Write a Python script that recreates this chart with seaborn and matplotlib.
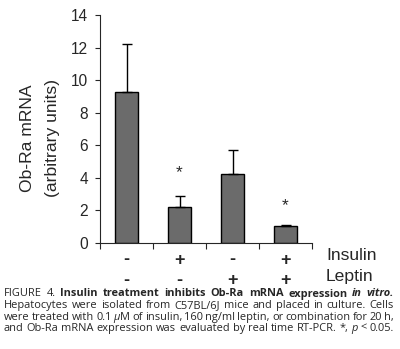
import matplotlib
matplotlib.use("Agg")
import matplotlib.pyplot as plt
import seaborn as sns
import pandas as pd
import numpy as np

# ---- data ----
groups = ["ctrl", "ins", "lep", "ins+lep"]
means = [9.25, 2.2, 4.23, 1.02]
errors = [2.95, 0.68, 1.47, 0.10]
star_heights = [None, 4.5, None, 2.5]
insulin_signs = ["-", "+", "-", "+"]
leptin_signs = ["-", "-", "+", "+"]
y_ticks = [0, 2, 4, 6, 8, 10, 12, 14]
y_label_lines = ["Ob-Ra mRNA", "(arbitrary units)"]
row_labels = ["Insulin", "Leptin"]

sns.set_style("ticks")
plt.rcParams["font.family"] = ["Liberation Sans", "DejaVu Sans"]

W, H = 400, 349
fig = plt.figure(figsize=(W / 100, H / 100), dpi=100)

def fx(x):
    return x / W

def fy(y):
    return 1 - y / H

ax = fig.add_axes([fx(100), fy(243), fx(312) - fx(100), fy(15) - fy(243)])

df = pd.DataFrame({"group": groups, "mean": means})
sns.barplot(data=df, x="group", y="mean", ax=ax, color="#6b6b6b",
            edgecolor="black", linewidth=1.0, width=0.42, saturation=1)
for p in ax.patches:
    p.set_facecolor("#6b6b6b")
ax.errorbar(range(len(groups)), means, yerr=[np.zeros(len(errors)), errors],
            fmt="none", ecolor="black", elinewidth=1.0, capsize=3.5, capthick=1.0)

ax.set_xlim(-0.5, len(groups) - 0.5)
ax.set_ylim(0, 14)
ax.set_yticks(y_ticks)
ax.set_yticklabels([str(t) for t in y_ticks], fontsize=11.2)
ax.tick_params(axis="y", length=3.5, width=0.8, pad=5)
ax.set_xticks([])
ax.set_xticks(np.arange(-0.5, len(groups), 1.0), minor=True)
ax.tick_params(axis="x", which="minor", length=4, width=0.8, direction="out")
ax.set_xlabel("")
ax.set_ylabel("")
for s in ["top", "right"]:
    ax.spines[s].set_visible(False)
for s in ["left", "bottom"]:
    ax.spines[s].set_linewidth(0.8)

# stars
for i, h in enumerate(star_heights):
    if h is not None:
        ax.annotate("*", (i, h), xytext=(0, -5.5), textcoords="offset points",
                    ha="center", va="baseline", fontsize=12.5)

# sign rows
trans = matplotlib.transforms.blended_transform_factory(ax.transData, fig.transFigure)
for i, s in enumerate(insulin_signs):
    ax.text(i, fy(264.5), s, transform=trans, ha="center", va="baseline",
            fontsize=13, fontweight="bold")
for i, s in enumerate(leptin_signs):
    ax.text(i, fy(285), s, transform=trans, ha="center", va="baseline",
            fontsize=13, fontweight="bold")
fig.text(fx(326), fy(259.5), row_labels[0], ha="left", va="baseline", fontsize=12.6)
fig.text(fx(326), fy(281), row_labels[1], ha="left", va="baseline", fontsize=12.6)

# y label (two lines)
fig.text(fx(28), fy(138), y_label_lines[0], rotation=90, ha="center", va="center", fontsize=12.6)
fig.text(fx(53), fy(138), y_label_lines[1], rotation=90, ha="center", va="center", fontsize=12.6)

# caption, justified
cap_font = ["Open Sans", "DejaVu Sans"]
cap_size = 7.9
N = {}
B = {"fontweight": "bold"}
BI = {"fontweight": "bold", "fontstyle": "italic"}
I = {"fontstyle": "italic"}
caption_lines = [
    [[("FIGURE", N)], [("4.", N)], [("Insulin", B)], [("treatment", B)], [("inhibits", B)],
     [("Ob-Ra", B)], [("mRNA", B)], [("expression", B)], [("in", BI)], [("vitro.", BI)]],
    [[(w, N)] for w in "Hepatocytes were isolated from C57BL/6J mice and placed in culture. Cells".split()],
    [[(w, N)] for w in "were treated with 0.1".split()] + [[("μ", I), ("M", N)]] +
    [[(w, N)] for w in "of insulin, 160 ng/ml leptin, or combination for 20 h,".split()],
    [[(w, N)] for w in "and Ob-Ra mRNA expression was evaluated by real time RT-PCR. *,".split()] +
    [[("p", I)], [("<", N)], [("0.05.", N)]],
]
baselines = [296.5, 308.3, 319.6, 330.8]
x_left, x_right = 4, 394

renderer = fig.canvas.get_renderer()
for line, yb in zip(caption_lines, baselines):
    word_widths = []
    for word in line:
        wsum = 0
        for seg, st in word:
            t = fig.text(0, 0, seg, fontsize=cap_size, family=cap_font, **st)
            wsum += t.get_window_extent(renderer).width
            t.remove()
        word_widths.append(wsum)
    gap = (x_right - x_left - sum(word_widths)) / (len(line) - 1)
    x = x_left
    for word, ww in zip(line, word_widths):
        xs = x
        for seg, st in word:
            t = fig.text(fx(xs), fy(yb), seg, fontsize=cap_size, family=cap_font,
                         ha="left", va="baseline", **st)
            xs += t.get_window_extent(renderer).width
        x += ww + gap

fig.savefig("out.png", dpi=100)
